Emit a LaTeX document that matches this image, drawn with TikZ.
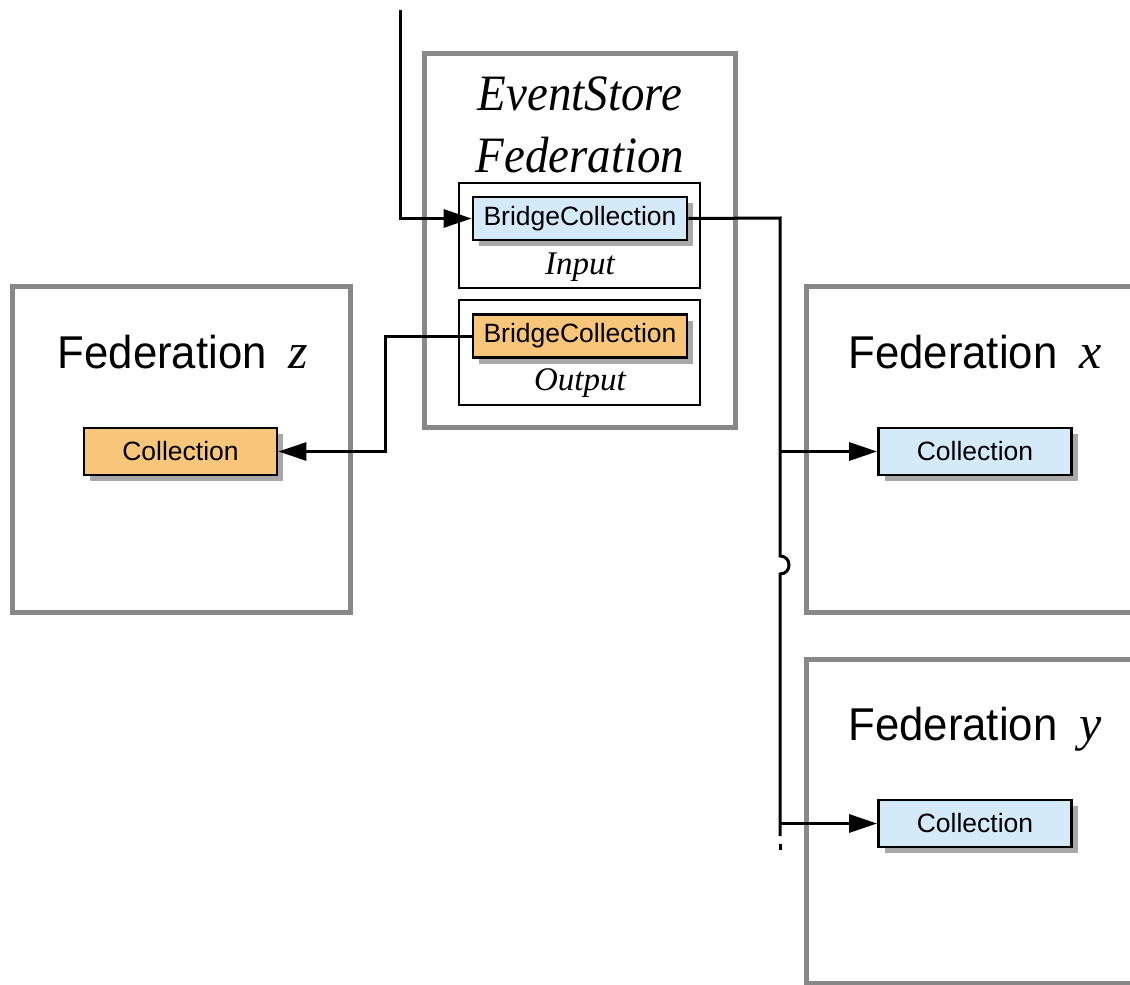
\documentclass[tikz,border=0pt]{standalone}
\usepackage{fontspec}
\setmainfont{Liberation Serif}
\setsansfont{Liberation Sans}
\newfontfamily\fedfont[FakeStretch=0.95]{Liberation Sans}
\newfontfamily\titlefont[FakeStretch=0.92]{Liberation Serif}
\usetikzlibrary{arrows.meta,shadows}
\definecolor{bordergray}{HTML}{888888}
\definecolor{lblue}{HTML}{D5EAF8}
\definecolor{lorange}{HTML}{F7C67A}
\definecolor{shadowgray}{HTML}{A8A8A8}
\newcommand{\fedname}[1]{{\fedfont Federation}\hspace{22pt}{\fontsize{50}{54}\selectfont\itshape #1}}
\begin{document}
\begin{tikzpicture}[x=1pt,y=-1pt,
  fedbox/.style={draw=bordergray, line width=5pt, fill=white, rectangle, inner sep=0pt},
  portbox/.style={draw=black, line width=2.8pt, fill=white, rectangle, inner sep=0pt, minimum width=241pt, minimum height=105pt},
  collbox/.style={draw=black, line width=2.8pt, rectangle, inner sep=0pt,
    font=\sffamily\fontsize{26.5}{30}\selectfont,
    drop shadow={shadow xshift=6pt, shadow yshift=-6pt, fill=shadowgray, opacity=1}},
  bridge/.style={collbox, minimum width=214pt, minimum height=43pt},
  coll/.style={collbox, minimum width=193pt, minimum height=47pt},
  fedlabel/.style={anchor=base, inner sep=0pt, font=\fontsize{46}{50}\selectfont},
  titlelabel/.style={anchor=base, inner sep=0pt, font=\titlefont\itshape\fontsize{51}{56}\selectfont},
  portlabel/.style={anchor=base, inner sep=0pt, font=\itshape\fontsize{33}{36}\selectfont},
  wire/.style={line width=3pt},
  arr/.style={wire, -{Triangle[length=28pt,width=18pt]}}
]
\useasboundingbox (0,0) rectangle (1130,985);

% outer federation boxes
\node[fedbox, minimum width=311pt, minimum height=374pt] (esf) at (579.5,240) {};
\node[fedbox, minimum width=338pt, minimum height=326pt] (fedz) at (181,449) {};
\node[fedbox, minimum width=354pt, minimum height=326pt] (fedx) at (983,449) {};
\node[fedbox, minimum width=354pt, minimum height=324pt] (fedy) at (983,821) {};

% titles
\node[titlelabel] (t1) at (580,110) {EventStore};
\node[titlelabel] (t2) at (580,172) {Federation};
\node[fedlabel] (lz) at (183,368) {\fedname{z}};
\node[fedlabel] (lx) at (975,368) {\fedname{x}};
\node[fedlabel] (ly) at (975,740) {\fedname{y}};

% input / output ports
\node[portbox] (inbox) at (579.5,235.5) {};
\node[portbox] (outbox) at (579.5,352.5) {};
\node[bridge, fill=lblue] (bcin) at (580,218.5) {BridgeCollection};
\node[bridge, fill=lorange] (bcout) at (580,336) {BridgeCollection};
\node[portlabel] (lin) at (580,274) {Input};
\node[portlabel] (lout) at (580,390) {Output};

% collections
\node[coll, fill=lorange] (collz) at (180.5,451.5) {Collection};
\node[coll, fill=lblue] (collx) at (975,451.5) {Collection};
\node[coll, fill=lblue] (colly) at (975,823.5) {Collection};

% connectors
\coordinate (src) at (400,10);
\draw[arr] (src) |- (bcin.west);
\coordinate (bus1) at (780,218);
\coordinate (busx) at (780,451.5);
\coordinate (jump1) at (780,556);
\coordinate (jump2) at (780,574);
\coordinate (busy) at (780,823.5);
\coordinate (busend) at (780,836);
\coordinate (dash1) at (780,844);
\coordinate (dash2) at (780,850);
\draw[wire] (bcin.east) -- (bus1) -- (jump1)
  .. controls (792,556) and (792,574) .. (jump2) -- (busend);
\draw[wire] (dash1) -- (dash2);
\draw[arr] (busx) -- (collx.west);
\draw[arr] (busy) -- (colly.west);
\coordinate (bend1) at (385,336);
\coordinate (bend2) at (385,451.5);
\draw[arr] (bcout.west) -- (bend1) -- (bend2) -- (collz.east);
\end{tikzpicture}
\end{document}
